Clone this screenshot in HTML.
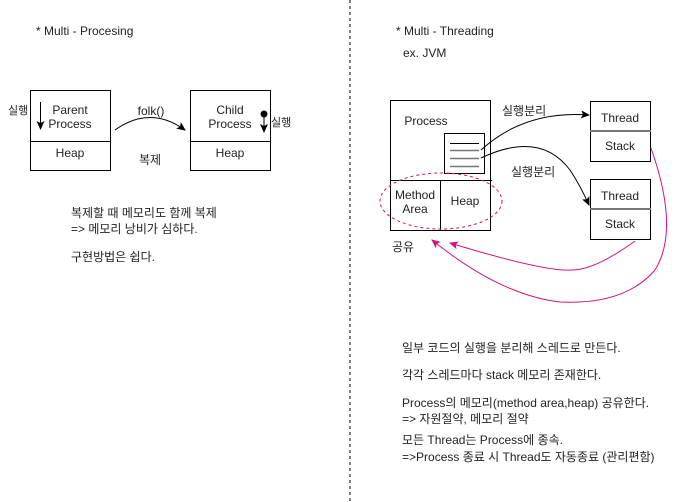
<!DOCTYPE html>
<html><head><meta charset="utf-8"><style>
html,body{margin:0;padding:0;background:#fff;}
svg{display:block;}
text{font-family:"Liberation Sans","Noto Sans CJK KR",sans-serif;font-size:12px;fill:#222;}
</style></head><body>
<svg width="681" height="502" viewBox="0 0 681 502">
<defs>
<marker id="ab" markerWidth="10" markerHeight="10" refX="8" refY="5" orient="auto" markerUnits="userSpaceOnUse"><path d="M0,1 L9,5 L0,9 L2,5 z" fill="#000"/></marker>
<marker id="ap" markerWidth="10" markerHeight="10" refX="8" refY="5" orient="auto" markerUnits="userSpaceOnUse"><path d="M0,1 L9,5 L0,9 L2,5 z" fill="#d0147a"/></marker>
</defs>
<line x1="350" y1="0" x2="350" y2="502" stroke="#000" stroke-dasharray="3,3"/>
<text x="36" y="35">* Multi - Procesing</text>
<!-- Parent -->
<rect x="30.5" y="118.5" width="0" height="0"/>
<rect x="30.5" y="90.5" width="80" height="80" fill="none" stroke="#000"/>
<line x1="30" y1="141.5" x2="111" y2="141.5" stroke="#000"/>
<text x="70" y="114" text-anchor="middle">Parent</text>
<text x="70" y="128" text-anchor="middle">Process</text>
<text x="70" y="157" text-anchor="middle">Heap</text>
<line x1="40.5" y1="102" x2="40.5" y2="129" stroke="#000" marker-end="url(#ab)"/>
<text x="8" y="114" style="font-size:11px">실행</text>
<!-- Child -->
<rect x="190.5" y="90.5" width="80" height="80" fill="none" stroke="#000"/>
<line x1="190" y1="141.5" x2="271" y2="141.5" stroke="#000"/>
<text x="230" y="114" text-anchor="middle">Child</text>
<text x="230" y="128" text-anchor="middle">Process</text>
<text x="230" y="157" text-anchor="middle">Heap</text>
<circle cx="264" cy="114" r="3.5" fill="#000"/>
<line x1="264" y1="114" x2="264" y2="132" stroke="#000" marker-end="url(#ab)"/>
<text x="271" y="126" style="font-size:11px">실행</text>
<path d="M115,130 Q150,105 185,130" fill="none" stroke="#000" marker-end="url(#ab)"/>
<text x="151" y="115" text-anchor="middle">folk()</text>
<text x="150" y="164" text-anchor="middle">복제</text>
<text x="71" y="217">복제할 때 메모리도 함께 복제</text>
<text x="71" y="233">=&gt; 메모리 낭비가 심하다.</text>
<text x="71" y="261">구현방법은 쉽다.</text>
<!-- Right -->
<text x="396" y="35">* Multi - Threading</text>
<text x="403" y="57">ex. JVM</text>
<rect x="390.5" y="100.5" width="100" height="130" fill="none" stroke="#000"/>
<line x1="390" y1="180.5" x2="492" y2="180.5" stroke="#000"/>
<line x1="440.5" y1="180" x2="440.5" y2="230" stroke="#000"/>
<text x="426" y="125" text-anchor="middle">Process</text>
<text x="415" y="199" text-anchor="middle">Method</text>
<text x="415" y="213" text-anchor="middle">Area</text>
<text x="465" y="205" text-anchor="middle">Heap</text>
<rect x="444.5" y="133.5" width="40" height="40" fill="#fff" stroke="#000"/>
<line x1="450" y1="143.5" x2="479" y2="143.5" stroke="#000"/>
<line x1="450" y1="150.5" x2="479" y2="150.5" stroke="#777" stroke-width="1.5"/>
<line x1="450" y1="158.5" x2="479" y2="158.5" stroke="#777" stroke-width="1.5"/>
<line x1="450" y1="166.5" x2="479" y2="166.5" stroke="#777" stroke-width="1.5"/>
<ellipse cx="441" cy="201" rx="61" ry="28" fill="none" stroke="#d0145a" stroke-dasharray="3,3"/>
<text x="392" y="251">공유</text>
<!-- Threads -->
<rect x="590.5" y="101.5" width="60" height="60" fill="none" stroke="#000"/>
<line x1="590" y1="131" x2="651" y2="131" stroke="#777" stroke-width="2"/>
<text x="620" y="122" text-anchor="middle">Thread</text>
<text x="620" y="150" text-anchor="middle">Stack</text>
<rect x="590.5" y="179.5" width="60" height="60" fill="none" stroke="#000"/>
<line x1="590" y1="209" x2="651" y2="209" stroke="#777" stroke-width="2"/>
<text x="620" y="200" text-anchor="middle">Thread</text>
<text x="620" y="228" text-anchor="middle">Stack</text>
<path d="M481,150 Q525,110 589,115" fill="none" stroke="#000" marker-end="url(#ab)"/>
<path d="M481,158 Q540,130 570,170 Q580,185 589,205" fill="none" stroke="#000" marker-end="url(#ab)"/>
<text x="502" y="115">실행분리</text>
<text x="511" y="176">실행분리</text>
<!-- pink -->
<path d="M635,241 Q595,270 572,270 Q545,272 450,243" fill="none" stroke="#d0147a" marker-end="url(#ap)"/>
<path d="M651,148 Q680,230 655,270 Q625,305 560,302 Q500,295 432,240" fill="none" stroke="#d0147a" marker-end="url(#ap)"/>
<!-- bottom text -->
<text x="402" y="352">일부 코드의 실행을 분리해 스레드로 만든다.</text>
<text x="402" y="379">각각 스레드마다 stack 메모리 존재한다.</text>
<text x="402" y="407">Process의 메모리(method area,heap) 공유한다.</text>
<text x="402" y="423">=&gt; 자원절약, 메모리 절약</text>
<text x="402" y="444">모든 Thread는 Process에 종속.</text>
<text x="402" y="461">=&gt;Process 종료 시 Thread도 자동종료 (관리편함)</text>
</svg>
</body></html>
